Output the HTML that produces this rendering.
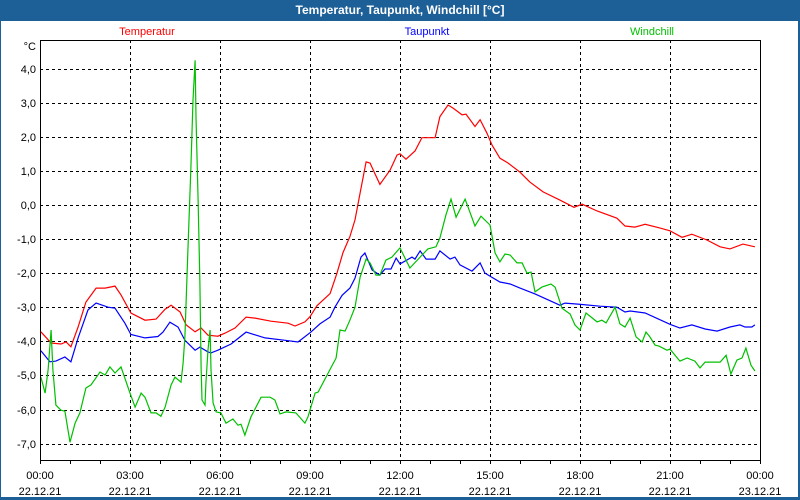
<!DOCTYPE html>
<html><head><meta charset="utf-8"><style>
html,body{margin:0;padding:0;width:800px;height:500px;overflow:hidden;background:#1d5f97;font-family:"Liberation Sans",sans-serif}
#title{position:absolute;left:0;top:0;width:800px;height:20px;line-height:20px;text-align:center;color:#fff;font-weight:bold;font-size:12px}
#panel{position:absolute;left:1px;top:21px;width:797px;height:476px;background:#fff}
svg{position:absolute;left:0;top:0}
</style></head><body>
<div id="title">Temperatur, Taupunkt, Windchill [°C]</div>
<div id="panel"></div>
<svg id="chart" width="800" height="500" font-family="Liberation Sans, sans-serif" font-size="11"></svg>
<script>
const yTicks=[4,3,2,1,0,-1,-2,-3,-4,-5,-6,-7];
const xTickHours=[0,3,6,9,12,15,18,21,24];
const xTickTimes=["00:00","03:00","06:00","09:00","12:00","15:00","18:00","21:00","00:00"];
const xTickDates=["22.12.21","22.12.21","22.12.21","22.12.21","22.12.21","22.12.21","22.12.21","22.12.21","23.12.21"];
const seriesNames=["Temperatur","Taupunkt","Windchill"];
const tempHours=[0.03,0.37,0.7,0.87,1.03,1.27,1.53,1.87,2.17,2.5,2.7,3.03,3.5,3.87,4.17,4.37,4.67,4.87,5.17,5.37,5.6,5.93,6.17,6.5,6.87,7.17,7.7,8.27,8.5,8.83,9.0,9.23,9.67,9.9,10.1,10.33,10.5,10.67,10.87,11.0,11.33,11.67,11.9,12.0,12.2,12.5,12.73,13.17,13.33,13.6,13.77,14.07,14.2,14.5,14.67,14.9,15.07,15.33,15.6,16.0,16.33,16.77,17.33,17.8,18.07,18.57,19.23,19.5,19.83,20.17,20.67,21.0,21.4,21.73,22.23,22.67,23.0,23.43,23.83];
const tempValues=[-3.72,-4.05,-4.08,-4.02,-4.16,-3.58,-2.85,-2.44,-2.44,-2.38,-2.64,-3.17,-3.38,-3.35,-3.06,-2.94,-3.14,-3.52,-3.72,-3.61,-3.82,-3.85,-3.76,-3.61,-3.29,-3.32,-3.41,-3.47,-3.55,-3.43,-3.28,-2.96,-2.6,-2.0,-1.4,-0.93,-0.44,0.35,1.26,1.23,0.6,1.02,1.46,1.5,1.34,1.58,1.97,1.97,2.59,2.93,2.84,2.64,2.66,2.3,2.5,2.1,1.75,1.37,1.23,0.96,0.67,0.38,0.14,-0.07,0.02,-0.18,-0.39,-0.62,-0.65,-0.57,-0.68,-0.76,-0.95,-0.86,-1.03,-1.23,-1.29,-1.15,-1.23];
const dewHours=[0.03,0.33,0.53,0.83,1.03,1.27,1.6,1.87,2.27,2.5,2.83,3.03,3.5,3.93,4.1,4.33,4.6,4.83,5.17,5.33,5.6,5.7,5.93,6.37,6.87,7.5,8.17,8.6,9.03,9.33,9.67,9.83,10.07,10.33,10.5,10.7,10.83,11.07,11.33,11.5,11.7,11.87,12.0,12.4,12.5,12.67,12.87,13.17,13.33,13.67,13.83,14.0,14.4,14.67,14.83,15.33,15.67,16.0,16.5,17.33,17.5,17.93,18.67,19.23,19.5,19.67,20.17,21.0,21.33,21.73,22.17,22.57,23.0,23.33,23.5,23.73,23.83];
const dewValues=[-4.28,-4.6,-4.58,-4.46,-4.6,-3.9,-3.08,-2.88,-3.0,-3.03,-3.47,-3.8,-3.9,-3.86,-3.73,-3.44,-3.58,-3.97,-4.26,-4.17,-4.31,-4.34,-4.26,-4.08,-3.73,-3.9,-3.97,-4.02,-3.73,-3.49,-3.29,-3.0,-2.65,-2.44,-2.15,-1.53,-1.41,-1.91,-2.06,-1.88,-1.88,-1.56,-1.73,-1.53,-1.59,-1.35,-1.59,-1.59,-1.35,-1.59,-1.53,-1.76,-1.94,-1.7,-2.0,-2.26,-2.32,-2.44,-2.61,-2.94,-2.88,-2.91,-2.97,-3.0,-3.14,-3.11,-3.17,-3.5,-3.61,-3.52,-3.64,-3.7,-3.58,-3.52,-3.58,-3.58,-3.52];
const chillHours=[0.03,0.17,0.27,0.37,0.43,0.53,0.7,0.83,1.0,1.17,1.33,1.53,1.7,2.0,2.17,2.33,2.5,2.7,3.0,3.17,3.37,3.5,3.7,3.87,4.03,4.17,4.37,4.5,4.7,4.77,4.83,4.93,5.03,5.1,5.17,5.2,5.27,5.33,5.37,5.4,5.5,5.53,5.6,5.67,5.7,5.77,5.87,6.03,6.2,6.43,6.6,6.7,6.83,7.03,7.37,7.67,7.83,8.0,8.2,8.53,8.83,8.93,9.17,9.27,9.87,10.0,10.17,10.33,10.5,10.67,10.87,11.0,11.2,11.33,11.53,11.73,12.0,12.33,12.67,12.93,13.2,13.33,13.53,13.7,13.87,14.17,14.5,14.7,15.0,15.17,15.33,15.5,15.67,15.9,16.07,16.23,16.37,16.5,16.73,17.03,17.17,17.4,17.67,17.83,18.0,18.2,18.57,18.73,18.87,19.17,19.33,19.5,19.67,19.87,20.07,20.2,20.33,20.5,20.63,20.9,21.0,21.33,21.57,21.83,22.0,22.17,22.67,22.87,23.03,23.23,23.4,23.53,23.7,23.83];
const chillValues=[-5.05,-5.52,-4.84,-3.67,-4.84,-5.87,-6.02,-6.05,-6.96,-6.4,-6.1,-5.37,-5.28,-4.9,-4.99,-4.75,-4.93,-4.75,-5.52,-5.93,-5.52,-5.64,-6.1,-6.1,-6.2,-5.93,-5.28,-5.05,-5.2,-4.64,-3.87,-1.33,1.1,3.07,4.24,2.58,0.14,-2.3,-4.76,-5.72,-5.87,-5.23,-4.25,-3.67,-4.84,-5.81,-6.07,-6.1,-6.4,-6.28,-6.46,-6.43,-6.75,-6.22,-5.64,-5.64,-5.72,-6.13,-6.07,-6.1,-6.4,-6.22,-5.52,-5.49,-4.49,-3.67,-3.7,-3.38,-3.0,-2.12,-1.59,-1.7,-2.06,-2.06,-1.62,-1.53,-1.26,-1.85,-1.53,-1.29,-1.23,-0.97,-0.3,0.17,-0.36,0.17,-0.62,-0.33,-0.59,-1.41,-1.67,-1.44,-1.47,-1.7,-1.7,-2.0,-1.97,-2.55,-2.41,-2.32,-2.41,-3.03,-3.2,-3.52,-3.67,-3.17,-3.43,-3.38,-3.46,-3.0,-3.49,-3.58,-3.32,-3.87,-4.02,-3.73,-3.87,-4.11,-4.14,-4.26,-4.23,-4.58,-4.49,-4.58,-4.78,-4.61,-4.61,-4.41,-4.96,-4.55,-4.49,-4.2,-4.7,-4.87];

const NS="http://www.w3.org/2000/svg";
const svg=document.getElementById('chart');
const L=40,R=760,T=40,B=460;
const xs=h=>L+h*30;
const ys=v=>68.5+(4-v)*34.1;
function mk(tag,attrs,parent){const e=document.createElementNS(NS,tag);for(const k in attrs)e.setAttribute(k,attrs[k]);(parent||svg).appendChild(e);return e;}

// grid
const grid=mk('g',{});


yTicks.forEach(v=>{
  const l=mk('line',{x1:L,x2:R,y1:Math.round(ys(v))+0.5,y2:Math.round(ys(v))+0.5,stroke:'#000','stroke-dasharray':'3,3','stroke-width':1},grid);
  
  
  const t=mk('text',{x:36,y:Math.round(ys(v))+4,'text-anchor':'end',fill:'#000'});
  t.textContent=v.toFixed(1).replace('.',',');
  
  
});
xTickHours.forEach((h,i)=>{
  if(h>0&&h<24){
    const l=mk('line',{x1:xs(h)+0.5,x2:xs(h)+0.5,y1:T,y2:B,stroke:'#000','stroke-dasharray':'3,3'},grid);
    
    
  }
  const t1=mk('text',{x:xs(h),y:479,'text-anchor':'middle',fill:'#000'});
  t1.textContent=xTickTimes[i];
  
  
  const t2=mk('text',{x:xs(h),y:495,'text-anchor':'middle',fill:'#000'});
  t2.textContent=xTickDates[i];
  
  
});
for(let h=0;h<=24;h++){
  const l=mk('line',{x1:xs(h)+0.5,x2:xs(h)+0.5,y1:B,y2:B+4,stroke:'#000'});
  
  
}
const unit=mk('text',{x:36,y:50,'text-anchor':'end',fill:'#000'});
unit.textContent='°C';



// clip
const defs=mk('defs',{});
const cp=mk('clipPath',{id:'pc'},defs);
mk('rect',{x:L,y:T,width:R-L,height:B-T},cp);

const colors=['#ff0000','#0000ff','#00c000'];
const hoursArr=[tempHours,dewHours,chillHours];
const valsArr=[tempValues,dewValues,chillValues];
const lineNames=['temperature-line','dewpoint-line','windchill-line'];
const legendX=[147,427,652];
for(let s=0;s<3;s++){
  const pts=hoursArr[s].map((h,i)=>xs(h).toFixed(1)+','+ys(valsArr[s][i]).toFixed(1)).join(' ');
  const p=mk('polyline',{points:pts,fill:'none',stroke:colors[s],'stroke-width':1.2,'clip-path':'url(#pc)'});
  
  
  const t=mk('text',{x:legendX[s],y:35,'text-anchor':'middle',fill:colors[s]});
  t.textContent=seriesNames[s];
  
  
}
const box=mk('rect',{x:L+0.5,y:T+0.5,width:R-L,height:B-T,fill:'none',stroke:'#000','stroke-width':1});


</script>
</body></html>
